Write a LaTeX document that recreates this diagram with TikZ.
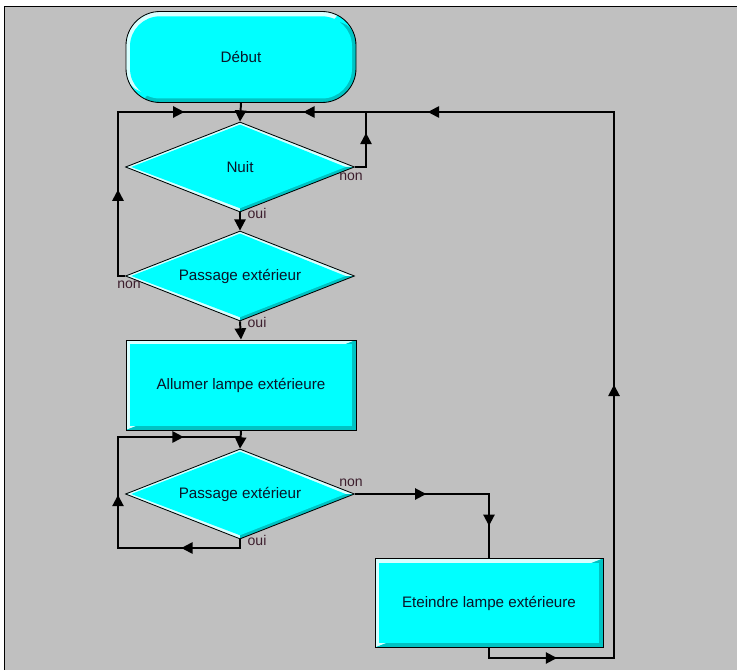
\documentclass[tikz,border=0pt]{standalone}
\usepackage{fontspec}
\setmainfont{Liberation Sans}
\usetikzlibrary{shapes.geometric, arrows.meta, positioning, calc, decorations.markings}
\definecolor{bgGray}{RGB}{192,192,192}
\definecolor{boxCyan}{RGB}{0,255,255}
\definecolor{bevelLight}{RGB}{215,255,255}
\definecolor{bevelDark}{RGB}{0,195,195}
\definecolor{textDark}{RGB}{10,20,40}
\definecolor{labelDark}{RGB}{60,30,45}

\begin{document}
\begin{tikzpicture}[
    every node/.style={font=\fontsize{10.8}{13}\selectfont, text=textDark},
    startbox/.style={draw=black, line width=0.6pt, fill=boxCyan, rounded corners=0.85cm, minimum width=5.75cm, minimum height=2.275cm, path picture={
        \fill[bevelLight] (path picture bounding box.south west) -- (path picture bounding box.north west) -- (path picture bounding box.north east) -- cycle;
        \fill[bevelDark] (path picture bounding box.south west) -- (path picture bounding box.south east) -- (path picture bounding box.north east) -- cycle;
        \fill[boxCyan, rounded corners=0.75cm] ([shift={(0.1,-0.12)}]path picture bounding box.north west) rectangle ([shift={(-0.1,0.1)}]path picture bounding box.south east);
    }},
    procbox/.style={draw=black, line width=0.6pt, fill=boxCyan, minimum width=5.75cm, minimum height=2.25cm, path picture={
        \fill[bevelLight] (path picture bounding box.south west) -- (path picture bounding box.north west) -- (path picture bounding box.north east) -- cycle;
        \fill[bevelDark] (path picture bounding box.south west) -- (path picture bounding box.south east) -- (path picture bounding box.north east) -- cycle;
        \fill[boxCyan] ([shift={(0.11,-0.11)}]path picture bounding box.north west) rectangle ([shift={(-0.11,0.11)}]path picture bounding box.south east);
    }},
    decbox/.style={shape=diamond, draw=black, line width=0.6pt, fill=boxCyan, inner sep=0pt, aspect=2.5, minimum width=5.725cm, minimum height=2.25cm, path picture={
        \fill[bevelLight] (path picture bounding box.south west) rectangle (path picture bounding box.north east);
        \fill[bevelDark] (path picture bounding box.east) -- (path picture bounding box.south) -- (path picture bounding box.center) -- cycle;
        \fill[boxCyan] ([xshift=0.14cm]path picture bounding box.west) -- ([yshift=-0.06cm]path picture bounding box.north) -- ([xshift=-0.22cm]path picture bounding box.east) -- ([yshift=0.09cm]path picture bounding box.south) -- cycle;
    }},
    flowline/.style={line width=1.4pt, draw=black},
    endarr/.style={-{Triangle[length=8pt, width=8pt]}},
    arrat/.style={postaction={decorate, decoration={markings, mark=at position #1 with {\arrow{Triangle[length=8pt, width=8pt]}}}}},
    lbl/.style={font=\fontsize{10}{12}\selectfont, text=labelDark, inner sep=0pt}
  ]
    % Frame
    \useasboundingbox (0,0) rectangle (18.425,-16.75);
    \fill[white] (0,0) rectangle (18.425,-16.75);
    \fill[bgGray] (0.1125,-0.1625) rectangle (18.425,-16.75);
    \draw[line width=1.2pt] (0.1125,-16.75) -- (0.1125,-0.1625) -- (18.425,-0.1625);

    % Boxes
    \node[startbox] (debut) at (6.025,-1.425) {Début};
    \node[decbox] (nuit) at (6,-4.175) {Nuit};
    \node[decbox] (pass1) at (6,-6.9) {Passage extérieur};
    \node[procbox] (allumer) at (6.025,-9.625) {Allumer lampe extérieure};
    \node[decbox] (pass2) at (6,-12.35) {Passage extérieur};
    \node[procbox, minimum width=5.7cm, minimum height=2.225cm] (eteindre) at (12.225,-15.075) {Eteindre lampe extérieure};

    % Corner points
    \coordinate (jtop) at (6,-2.8);
    \coordinate (nuitR) at (9.15,-2.8);
    \coordinate (loopTL) at (2.95,-2.8);
    \coordinate (retTR) at (15.35,-2.8);
    \coordinate (retBR) at (15.35,-16.45);
    \coordinate (eteB) at (12.225,-16.45);
    \coordinate (p2B) at (6,-13.7);
    \coordinate (p2BL) at (2.95,-13.7);
    \coordinate (p2TL) at (2.95,-10.925);
    \coordinate (p2T) at (6,-10.925);

    % Connectors
    \draw[flowline, endarr] (debut.south) -- (nuit.north);
    \draw[flowline, arrat=0.684] (nuit.east) -| (nuitR);
    \draw[flowline, endarr] (nuit.south) -- (pass1.north);
    \draw[flowline, arrat=0.319, arrat=0.81] (pass1.west) -| (loopTL) -- (jtop);
    \draw[flowline, endarr] (pass1.south) -- (allumer.north);
    \draw[flowline, endarr] (allumer.south) -- (pass2.north);
    \draw[flowline, arrat=0.185, arrat=0.505, arrat=0.845] (pass2.south) -- (p2B) -- (p2BL) -- (p2TL) -- (p2T);
    \draw[flowline, arrat=0.36, arrat=0.837] (pass2.east) -| (eteindre.north);
    \draw[flowline, arrat=0.074, arrat=0.387, arrat=0.822, arrat=0.94] (eteindre.south) -- (eteB) -- (retBR) -- (retTR) -- (nuitR) -- (jtop);

    % Branch labels
    \node[lbl] (nuitNon) at (8.775,-4.425) {non};
    \node[lbl] (nuitOui) at (6.425,-5.325) {oui};
    \node[lbl] (pass1Non) at (3.225,-7.125) {non};
    \node[lbl] (pass1Oui) at (6.425,-8.05) {oui};
    \node[lbl] (pass2Non) at (8.775,-12.075) {non};
    \node[lbl] (pass2Oui) at (6.425,-13.5) {oui};
  \end{tikzpicture}
\end{document}
